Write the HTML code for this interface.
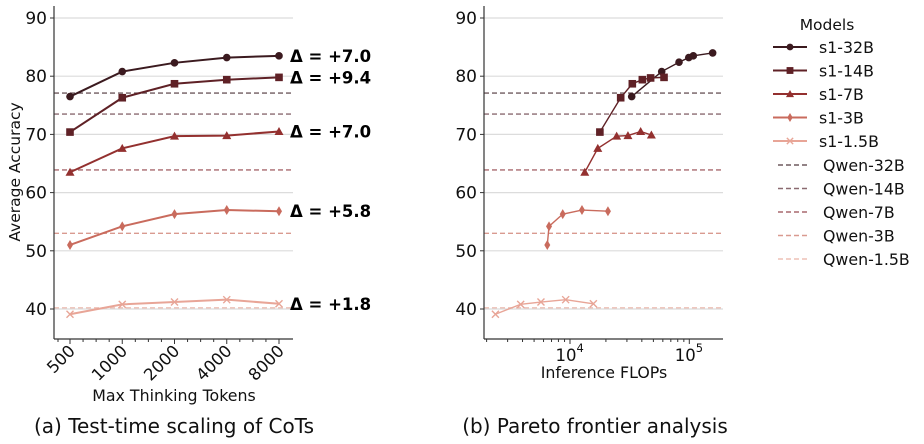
<!DOCTYPE html>
<html><head><meta charset="utf-8"><style>
body{margin:0;background:#fff}
svg{display:block;font-family:"DejaVu Sans","Liberation Sans",sans-serif}
</style></head><body>
<svg id="c" width="924" height="444" xmlns="http://www.w3.org/2000/svg"></svg>
<script>
const yTicks=[40,50,60,70,80,90];
const tokenCats=[500,1000,2000,4000,8000];
const names=["s1-32B","s1-14B","s1-7B","s1-3B","s1-1.5B"];
const qwenNames=["Qwen-32B","Qwen-14B","Qwen-7B","Qwen-3B","Qwen-1.5B"];
const qwenVals=[77.1,73.5,63.9,53.0,40.2];
const acc32=[76.5,80.8,82.3,83.2,83.5];
const acc14=[70.4,76.3,78.7,79.4,79.8];
const acc7=[63.5,67.6,69.7,69.8,70.5];
const acc3=[51.0,54.2,56.3,57.0,56.8];
const acc15=[39.1,40.8,41.2,41.6,40.9];
const deltas=["+7.0","+9.4","+7.0","+5.8","+1.8"];
const flops32=[32900,58700,82000,99000,108000,157000];
const facc32=[76.5,80.8,82.4,83.2,83.5,84.0];
const flops14=[17800,26600,33300,40400,47400,61400];
const facc14=[70.4,76.3,78.7,79.4,79.7,79.8];
const flops7=[13300,17100,24600,30600,39100,48100];
const facc7=[63.5,67.6,69.7,69.8,70.5,69.9];
const flops3=[6450,6670,8690,12600,20800];
const facc3=[51.0,54.2,56.3,57.0,56.8];
const flops15=[2370,3860,5710,9200,15700];
const facc15=[39.1,40.8,41.2,41.6,40.9];
const colors=["#3b1a1f","#5f2126","#93302f","#c96b5d","#e8a597"];
const qcolors=["#6f5a5f","#8a6a70","#a8696e","#d99a90","#edc0b6"];
const markers=["circle","square","triangle","diamond","x"];

const svg=document.getElementById('c');
const NS="http://www.w3.org/2000/svg";
function mk(tag,at,parent,txt){const e=document.createElementNS(NS,tag);for(const k in at)e.setAttribute(k,at[k]);if(txt!==undefined)e.textContent=txt;(parent||svg).appendChild(e);return e;}
const y=v=>309-(v-40)*5.82;
const xL=v=>70+Math.log2(v/500)*52.25;
const xR=v=>570+Math.log10(v/1e4)*119.3;

function marker(g,type,cx,cy,col,s){
  let e;
  if(type==="circle")e=mk('circle',{cx,cy,r:3.8*s,fill:col},g);
  else if(type==="square")e=mk('rect',{x:cx-3.8*s,y:cy-3.8*s,width:7.6*s,height:7.6*s,fill:col},g);
  else if(type==="triangle")e=mk('polygon',{points:`${cx},${cy-4.5*s} ${cx+4.5*s},${cy+3.5*s} ${cx-4.5*s},${cy+3.5*s}`,fill:col},g);
  else if(type==="diamond")e=mk('polygon',{points:`${cx},${cy-5*s} ${cx+3*s},${cy} ${cx},${cy+5*s} ${cx-3*s},${cy}`,fill:col},g);
  else e=mk('path',{d:`M${cx-3.5*s},${cy-3.5*s}L${cx+3.5*s},${cy+3.5*s}M${cx+3.5*s},${cy-3.5*s}L${cx-3.5*s},${cy+3.5*s}`,stroke:col,'stroke-width':1.4},g);
  
  
}

function panel(id,x0,x1){
  const g=mk('g',{});
  
  
  yTicks.forEach(t=>{
    mk('line',{x1:x0,x2:x1,y1:y(t),y2:y(t),stroke:'#dcdcdc','stroke-width':1.2},g);
    mk('line',{x1:x0-4,x2:x0,y1:y(t),y2:y(t),stroke:'#333'},g);
    const tx=mk('text',{x:x0-7,y:y(t)+6,'text-anchor':'end','font-size':17,fill:'#111'},g,t);
    
    
  });
  qwenVals.forEach((v,i)=>{
    const l=mk('line',{x1:x0,x2:x1,y1:y(v),y2:y(v),stroke:qcolors[i],'stroke-width':1.4,'stroke-dasharray':'5,3'},g);
    
    
  });
  mk('line',{x1:x0,x2:x0,y1:6,y2:339,stroke:'#333','stroke-width':1.2},g);
  mk('line',{x1:x0,x2:x1,y1:339,y2:339,stroke:'#333','stroke-width':1.2},g);
  return g;
}
function series(xs,ys,xf,i,g,sw){
  const s=mk('g',{},g);
  
  
  mk('polyline',{points:xs.map((v,k)=>xf(v)+','+y(ys[k])).join(' '),fill:'none',stroke:colors[i],'stroke-width':sw},s);
  xs.forEach((v,k)=>marker(s,markers[i],xf(v),y(ys[k]),colors[i],1));
}

// Left panel
const gl=panel('left',54,293);
for(let k=0;k<4;k++){for(let m=1;m<4;m++){const xx=70+(k+m/4)*52.25;mk('line',{x1:xx,x2:xx,y1:339,y2:342,stroke:'#333'},gl);}}
mk('line',{x1:58,x2:58,y1:339,y2:342,stroke:'#333'},gl);
tokenCats.forEach(c=>{
  mk('line',{x1:xL(c),x2:xL(c),y1:339,y2:344,stroke:'#333'},gl);
  const t=mk('text',{x:xL(c)+6,y:352,'text-anchor':'end','font-size':16.5,fill:'#111',transform:`rotate(-45 ${xL(c)+6} 352)`},gl,c);
  
  
});
const accs=[acc32,acc14,acc7,acc3,acc15];
accs.forEach((a,i)=>{
  series(tokenCats,a,xL,i,gl,2);
  const t=mk('text',{x:290,y:y(a[4])+6,'font-size':16.5,'font-weight':'bold',fill:'#000'},gl,'Δ = '+deltas[i]);
  
  
});
let t=mk('text',{x:20,y:172,'text-anchor':'middle','font-size':15.5,fill:'#111',transform:'rotate(-90 20 172)'},svg,'Average Accuracy');

t=mk('text',{x:174,y:401,'text-anchor':'middle','font-size':15.8,fill:'#111'},svg,'Max Thinking Tokens');

t=mk('text',{x:174,y:433,'text-anchor':'middle','font-size':20,fill:'#111'},svg,'(a) Test-time scaling of CoTs');


// Right panel
const gr=panel('right',484,723);
for(let d=3;d<=5;d++){for(let m=1;m<10;m++){const v=m*Math.pow(10,d);const xx=xR(v);if(xx<486||xx>723)continue;
  mk('line',{x1:xx,x2:xx,y1:339,y2:m===1?344:342,stroke:'#333'},gr);}}
[[1e4,'4'],[1e5,'5']].forEach(([v,e])=>{
  const tt=mk('text',{x:xR(v)-4,y:361,'text-anchor':'middle','font-size':16.5,fill:'#111'},gr,'10');
  
  mk('text',{x:xR(v)+6.5,y:352,'font-size':11.5,fill:'#111'},gr,e);
});
[[flops32,facc32],[flops14,facc14],[flops7,facc7],[flops3,facc3],[flops15,facc15]].forEach((p,i)=>series(p[0],p[1],xR,i,gr,1.4));
t=mk('text',{x:604,y:378,'text-anchor':'middle','font-size':15.8,fill:'#111'},svg,'Inference FLOPs');

t=mk('text',{x:595,y:433,'text-anchor':'middle','font-size':20,fill:'#111'},svg,'(b) Pareto frontier analysis');


// Legend
const lg=mk('g',{});

mk('text',{x:827,y:30,'text-anchor':'middle','font-size':15.5,fill:'#111'},lg,'Models');
names.forEach((n,i)=>{
  const yy=47+i*23.5;
  const e=mk('g',{},lg);
  
  mk('line',{x1:773,x2:807,y1:yy,y2:yy,stroke:colors[i],'stroke-width':2},e);
  marker(e,markers[i],790,yy,colors[i],0.9);
  mk('text',{x:819,y:yy+6,'font-size':15.8,fill:'#111'},e,n);
});
qwenNames.forEach((n,i)=>{
  const yy=165+i*23.5;
  const e=mk('g',{},lg);
  
  mk('line',{x1:778,x2:810,y1:yy,y2:yy,stroke:qcolors[i],'stroke-width':1.4,'stroke-dasharray':'5,3'},e);
  mk('text',{x:823,y:yy+6,'font-size':15.8,fill:'#111'},e,n);
});
</script>
</body></html>
